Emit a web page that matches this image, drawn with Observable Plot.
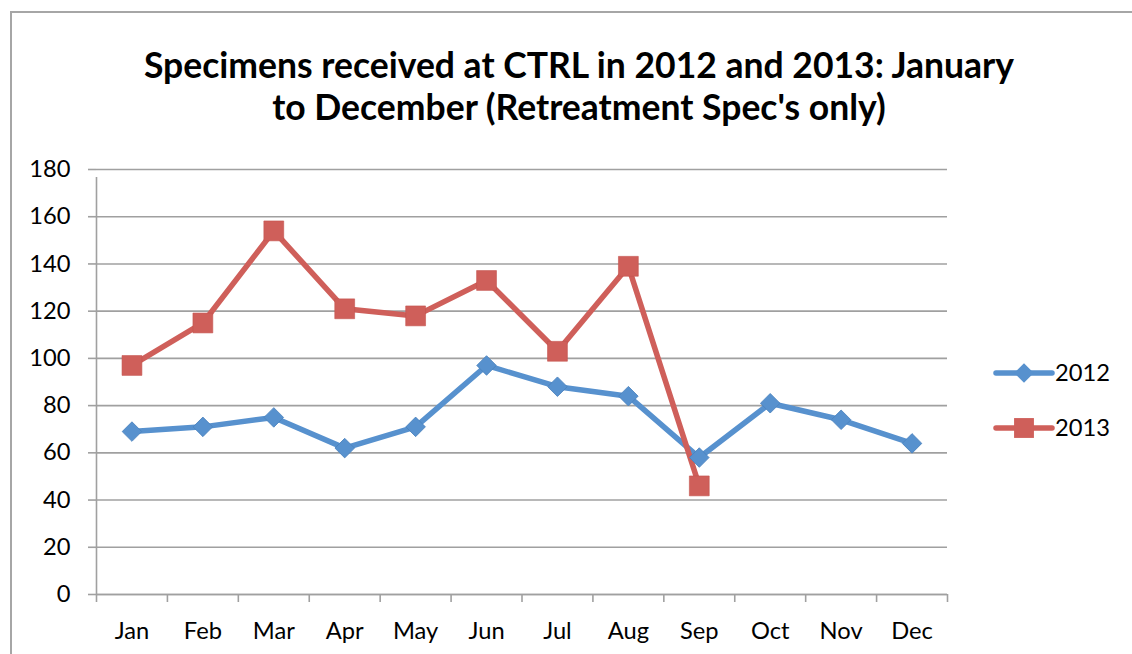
<!DOCTYPE html>
<html>
<head>
<meta charset="utf-8">
<script src="https://cdn.jsdelivr.net/npm/d3@7"></script>
<script src="https://cdn.jsdelivr.net/npm/@observablehq/plot@0.6"></script>
<style>
  html, body { margin: 0; padding: 0; background: #fff; }
  #wrap { position: relative; width: 1132px; height: 654px; overflow: hidden; background: #fff; }
  #chart, #overlay { position: absolute; left: 0; top: 0; }
  #overlay { pointer-events: none; }
  text { font-family: Lato, "Open Sans", sans-serif; }
</style>
</head>
<body>
<div id="wrap">
  <div id="chart"></div>
  <svg id="overlay" width="1132" height="654"></svg>
</div>
<script>
// ---- data ----
const months = ["Jan","Feb","Mar","Apr","May","Jun","Jul","Aug","Sep","Oct","Nov","Dec"];
const series = ["2012", "2013"];
const values2012 = [69, 71, 75, 62, 71, 97, 88, 84, 58, 81, 74, 64];
const values2013 = [97, 115, 154, 121, 118, 133, 103, 139, 46];
const yTicks = [0, 20, 40, 60, 80, 100, 120, 140, 160, 180];
const titleLines = ["Specimens received at CTRL in 2012 and 2013: January", "to December (Retreatment Spec's only)"];

const colors = ["#5791CE", "#CF5F5A"];
const gridColor = "#a0a0a0";

const rows2012 = values2012.map((v, i) => ({month: months[i], value: v, series: series[0]}));
const rows2013 = values2013.map((v, i) => ({month: months[i], value: v, series: series[1]}));
const rows = rows2012.concat(rows2013);

const W = 1132, H = 654;
const mL = 96, mR = 185, mT = 169, mB = 60;
const step = (W - mL - mR) / months.length;

const chart = Plot.plot({
  width: W, height: H,
  marginLeft: mL, marginRight: mR, marginTop: mT, marginBottom: mB,
  style: {fontFamily: "Lato, 'Open Sans', sans-serif", fontSize: "23.7px", color: "#000", background: "transparent", overflow: "visible"},
  x: {type: "point", domain: months, padding: 0.5, round: false},
  y: {domain: [0, 180]},
  color: {domain: series, range: colors},
  marks: [
    Plot.gridY(yTicks, {stroke: gridColor, strokeOpacity: 1, strokeWidth: 1.6}),
    Plot.axisY(yTicks, {tickSize: 8, tickPadding: 18, stroke: gridColor, strokeWidth: 1.6, strokeOpacity: 1, label: null, fill: "#000"}),
    Plot.ruleY([0], {stroke: gridColor, strokeWidth: 1.6}),
    Plot.ruleX([months[0]], {y1: 0, y2: 180, dx: -step / 2, insetBottom: -8, stroke: gridColor, strokeWidth: 1.6}),
    Plot.axisX(months, {tickSize: 8, dx: -step / 2, tickFormat: () => "", stroke: gridColor, strokeWidth: 1.6, strokeOpacity: 1, label: null}),
    Plot.axisX([months[months.length - 1]], {tickSize: 8, dx: step / 2, tickFormat: () => "", stroke: gridColor, strokeWidth: 1.6, strokeOpacity: 1, label: null}),
    Plot.axisX(months, {tickSize: 0, tickPadding: 28, label: null, fill: "#000"}),
    Plot.line(rows, {x: "month", y: "value", z: "series", stroke: "series", strokeWidth: 5.5, strokeLinejoin: "round", strokeLinecap: "round"}),
    Plot.dot(rows2012, {x: "month", y: "value", symbol: "square", r: 7.8, rotate: 45, fill: colors[0], stroke: "#4a82bd", strokeWidth: 0.8}),
    Plot.dot(rows2013, {x: "month", y: "value", symbol: "square", r: 11.2, fill: colors[1], stroke: "#c4544f", strokeWidth: 0.6})
  ]
});
document.getElementById("chart").appendChild(chart);

// ---- overlay: frame, title, legend ----
const ov = d3.select("#overlay");
ov.append("rect").attr("x", 11).attr("y", 12).attr("width", 1200).attr("height", 700)
  .attr("fill", "none").attr("stroke", "#a6a6a6").attr("stroke-width", 2);

ov.selectAll("text.title").data(titleLines).join("text")
  .attr("class", "title")
  .attr("x", 579).attr("y", (d, i) => 78 + i * 42)
  .attr("text-anchor", "middle")
  .attr("font-size", 35.5).attr("font-weight", "bold").attr("fill", "#000")
  .text(d => d);

const leg = ov.selectAll("g.leg").data(series).join("g")
  .attr("class", "leg")
  .attr("transform", (d, i) => `translate(996, ${373 + i * 55})`);
leg.append("line").attr("x1", 0).attr("x2", 56).attr("y1", 0).attr("y2", 0)
  .attr("stroke", (d, i) => colors[i]).attr("stroke-width", 5.5).attr("stroke-linecap", "round");
leg.append("path")
  .attr("d", (d, i) => i === 0
    ? d3.symbol(d3.symbolSquare, Math.PI * 7.8 * 7.8)()
    : d3.symbol(d3.symbolSquare, Math.PI * 11.2 * 11.2)())
  .attr("transform", (d, i) => i === 0 ? "translate(28,0) rotate(45)" : "translate(28,0)")
  .attr("fill", (d, i) => colors[i]);
leg.append("text").attr("x", 59).attr("y", 0).attr("dy", "0.35em")
  .attr("font-size", 23.7).attr("fill", "#000").text(d => d);
</script>
</body>
</html>
